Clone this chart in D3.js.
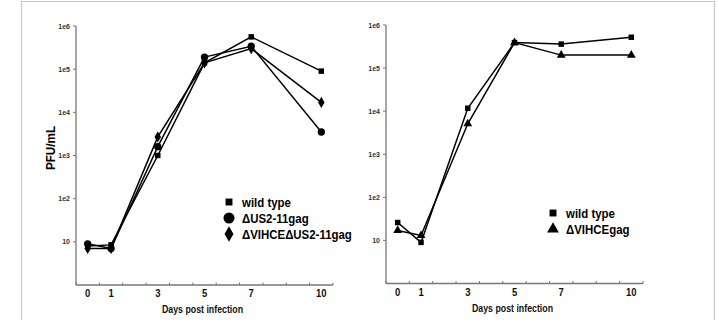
<!DOCTYPE html>
<html>
<head>
<meta charset="UTF-8">
<script src="https://cdn.jsdelivr.net/npm/d3@7"></script>
<style>
  body { margin: 0; background: #fff; }
  text { font-family: "Liberation Sans", Arial, sans-serif; }
</style>
</head>
<body>
<svg id="chart" width="719" height="328"></svg>
<script>
// data
const days = [0, 1, 3, 5, 7, 10];
const dayLabels = ["0", "1", "3", "5", "7", "10"];
const yTicks = [10, 1e2, 1e3, 1e4, 1e5, 1e6];
const yTickLabels = ["10", "1e2", "1e3", "1e4", "1e5", "1e6"];

const leftNames = ["wild type", "\u0394US2-11gag", "\u0394VIHCE\u0394US2-11gag"];
const leftWild = [8, 8.5, 1000, 140000, 560000, 90000];
const leftUS2 = [9, 7, 1600, 190000, 340000, 3500];
const leftVIHCE = [7, 7, 2700, 140000, 300000, 17000];

const rightNames = ["wild type", "\u0394VIHCEgag"];
const rightWild = [26, 9, 11700, 390000, 360000, 520000];
const rightVIHCE = [17, 13, 5100, 390000, 200000, 200000];

const svg = d3.select("#chart");

// gray frame, open at the bottom
svg.append("path")
  .attr("d", "M21.5,320 V1.5 H714.5 V320")
  .attr("fill", "none")
  .attr("stroke", "#c8c8c8")
  .attr("stroke-width", 1.2);

const shapeType = {
  square: d3.symbolSquare,
  circle: d3.symbolCircle,
  diamond: d3.symbolDiamond,
  triangle: d3.symbolTriangle
};
const markSize = { square: 30, circle: 42, diamond: 36, triangle: 34 };
const legendSize = { square: 48, circle: 95, diamond: 70, triangle: 60 };

function drawPanel(opt) {
  const x = d3.scaleLinear().domain([-0.5, 10.5]).range([opt.x0, opt.x1]);
  const y = d3.scaleLog().domain([1, 1e6]).range([opt.y0, opt.y1]);
  const g = svg.append("g");

  // y axis
  g.append("line")
    .attr("x1", opt.x0).attr("x2", opt.x0)
    .attr("y1", opt.y0).attr("y2", y(1e6))
    .attr("stroke", "#777").attr("stroke-width", 1.3);
  yTicks.forEach((t, i) => {
    g.append("line")
      .attr("x1", opt.x0 - 3).attr("x2", opt.x0)
      .attr("y1", y(t)).attr("y2", y(t))
      .attr("stroke", "#777").attr("stroke-width", 1);
    g.append("text")
      .attr("x", opt.x0 - 6).attr("y", y(t) + 2.5)
      .attr("text-anchor", "end")
      .attr("font-size", "7px")
      .attr("font-weight", "bold")
      .attr("fill", "#333")
      .text(yTickLabels[i]);
  });

  // x axis
  g.append("line")
    .attr("x1", opt.x0).attr("x2", opt.x1)
    .attr("y1", opt.y0).attr("y2", opt.y0)
    .attr("stroke", "#777").attr("stroke-width", 1.3);
  d3.range(-0.5, 11, 1).forEach(t => {
    g.append("line")
      .attr("x1", x(t)).attr("x2", x(t))
      .attr("y1", opt.y0 - 2.5).attr("y2", opt.y0)
      .attr("stroke", "#777").attr("stroke-width", 1);
  });
  days.forEach((d, i) => {
    g.append("text")
      .attr("transform", `translate(${x(d)},${opt.y0 + 12}) scale(0.9,1)`)
      .attr("text-anchor", "middle")
      .attr("font-size", "10.5px")
      .attr("font-weight", "bold")
      .attr("fill", "#111")
      .text(dayLabels[i]);
  });
  g.append("text")
    .attr("transform", `translate(${(opt.x0 + opt.x1) / 2 - 2},${opt.y0 + 28}) scale(0.88,1)`)
    .attr("text-anchor", "middle")
    .attr("font-size", "10px")
    .attr("font-weight", "bold")
    .attr("fill", "#111")
    .text("Days post infection");

  const line = d3.line().x((v, i) => x(days[i])).y(v => y(v));

  opt.series.forEach(s => {
    g.append("path")
      .attr("d", line(s.values))
      .attr("fill", "none")
      .attr("stroke", "#000")
      .attr("stroke-width", 1.5);
  });
  opt.series.forEach(s => {
    g.selectAll(null).data(s.values).enter().append("path")
      .attr("d", d3.symbol().type(shapeType[s.shape]).size(markSize[s.shape]))
      .attr("transform", (v, i) => `translate(${x(days[i])},${y(v)})`)
      .attr("fill", "#000");
  });

  // legend
  opt.series.forEach((s, i) => {
    const ly = opt.ly + i * 16;
    g.append("path")
      .attr("d", d3.symbol().type(shapeType[s.shape]).size(legendSize[s.shape]))
      .attr("transform", `translate(${opt.lx},${ly})`)
      .attr("fill", "#000");
    g.append("text")
      .attr("transform", `translate(${opt.lx + 13},${ly + 5}) scale(0.88,1)`)
      .attr("font-size", "13px")
      .attr("font-weight", "bold")
      .attr("fill", "#000")
      .text(s.name);
  });
}

drawPanel({
  x0: 76, x1: 333, y0: 285, y1: 26, lx: 229, ly: 202,
  series: [
    { name: leftNames[0], values: leftWild, shape: "square" },
    { name: leftNames[1], values: leftUS2, shape: "circle" },
    { name: leftNames[2], values: leftVIHCE, shape: "diamond" }
  ]
});

drawPanel({
  x0: 386, x1: 643, y0: 283.5, y1: 25, lx: 553, ly: 213,
  series: [
    { name: rightNames[0], values: rightWild, shape: "square" },
    { name: rightNames[1], values: rightVIHCE, shape: "triangle" }
  ]
});

// y axis title
svg.append("text")
  .attr("transform", "translate(55,148) rotate(-90) scale(0.9,1)")
  .attr("text-anchor", "middle")
  .attr("font-size", "13px")
  .attr("font-weight", "bold")
  .attr("fill", "#000")
  .text("PFU/mL");
</script>
</body>
</html>
